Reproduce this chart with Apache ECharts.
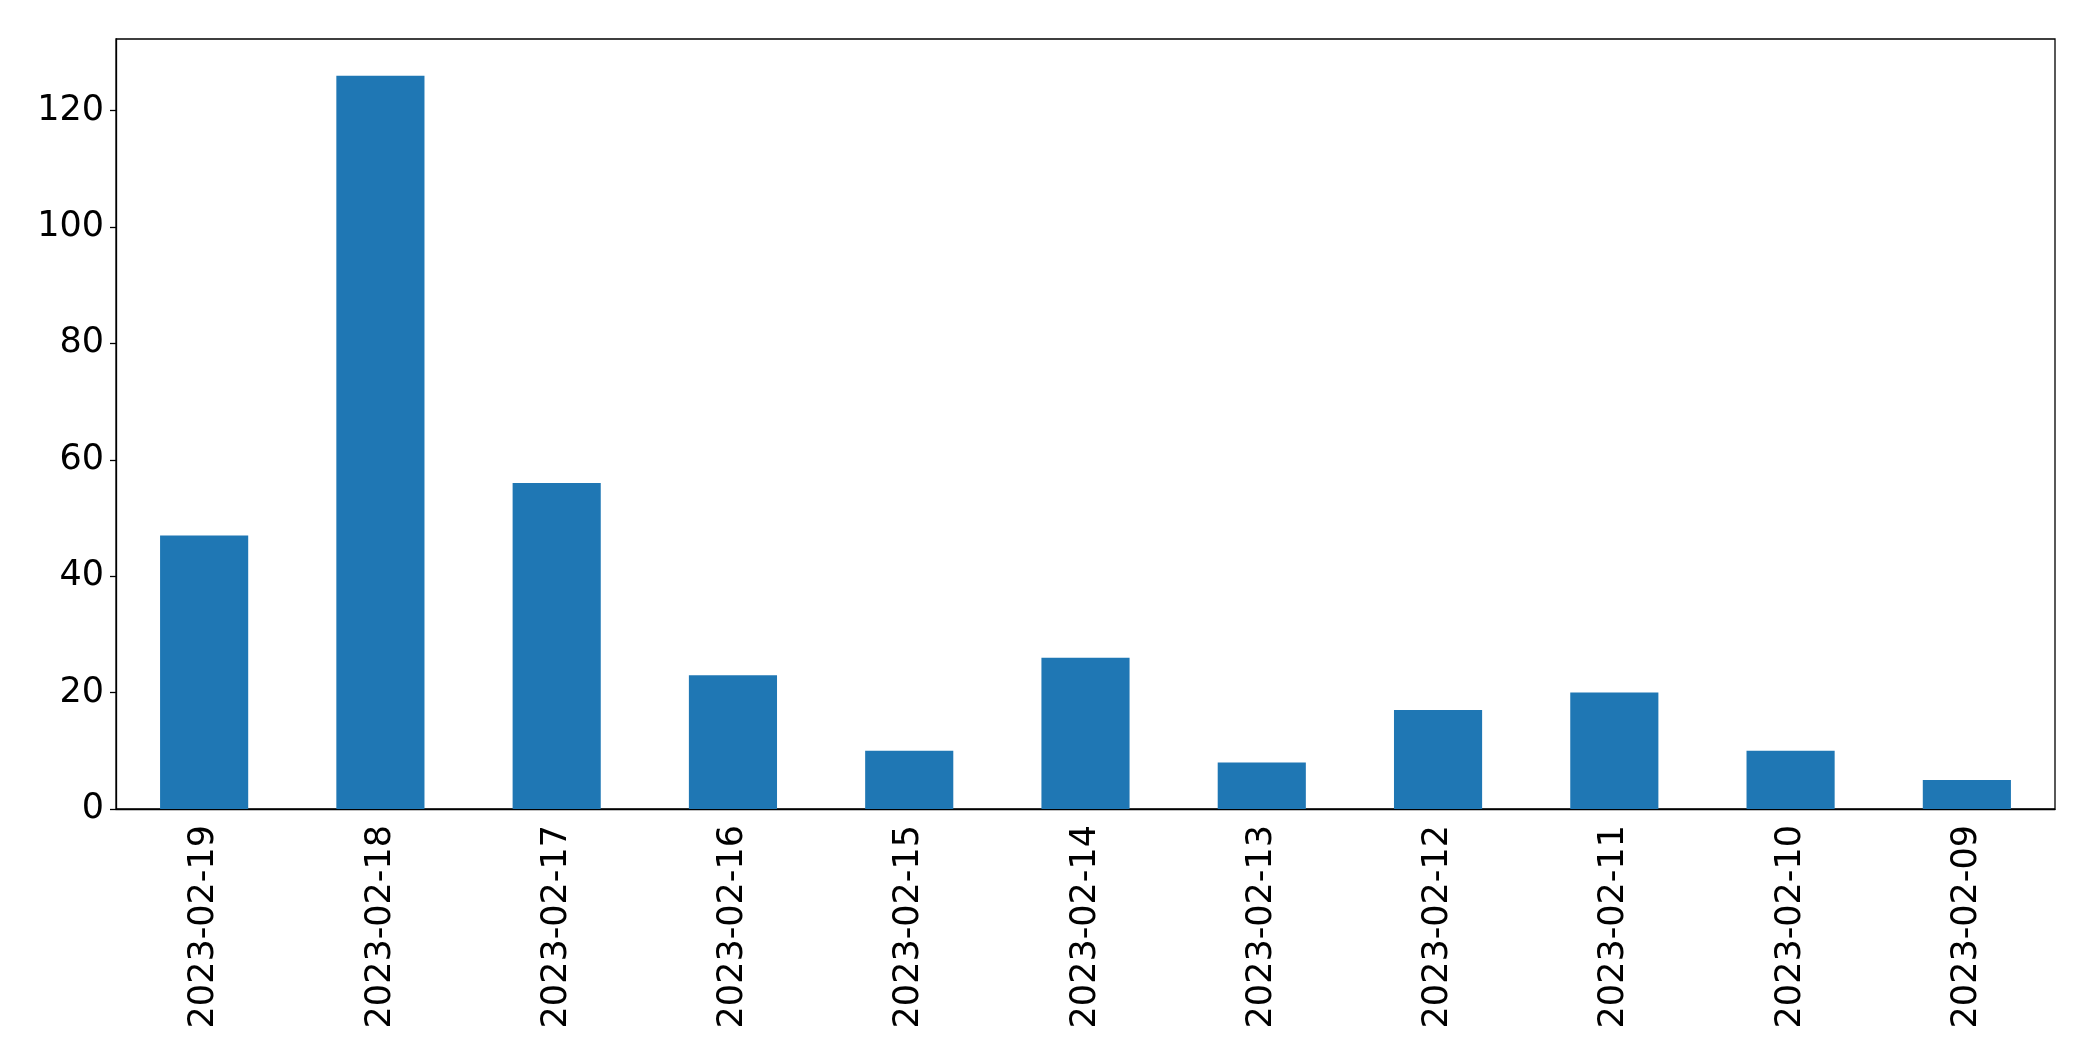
<!DOCTYPE html>
<html style="height: 100%">
<head>
    <meta charset="utf-8">
    <title>bar chart</title>
    <script type="text/javascript" src="https://cdn.jsdelivr.net/npm/echarts@6/dist/echarts.min.js"></script>
</head>
<body style="height: 100%; margin: 0; background: #fff;">
<div id="container" style="width: 2093px; height: 1061px;"></div>
<script type="text/javascript">
    // data
    var dates = ['2023-02-19', '2023-02-18', '2023-02-17', '2023-02-16', '2023-02-15', '2023-02-14',
                 '2023-02-13', '2023-02-12', '2023-02-11', '2023-02-10', '2023-02-09'];
    var counts = [47, 126, 56, 23, 10, 26, 8, 17, 20, 10, 5];
    var yTicks = [0, 20, 40, 60, 80, 100, 120];

    var font = 'DejaVu Sans';
    var myChart = echarts.init(document.getElementById('container'));
    var option = {
        animation: false,
        backgroundColor: '#fff',
        grid: {
            left: 116,
            top: 39,
            right: 38,
            bottom: 252,
            show: true,
            borderColor: '#000',
            borderWidth: 1.3,
            backgroundColor: 'transparent'
        },
        xAxis: {
            type: 'category',
            data: dates,
            axisLine: { lineStyle: { color: '#000', width: 1.3 } },
            axisTick: { alignWithLabel: true, length: 6, lineStyle: { color: '#000', width: 1.3 } },
            axisLabel: {
                rotate: 90,
                interval: 0,
                margin: 16,
                color: '#000',
                fontFamily: font,
                fontSize: 35
            }
        },
        yAxis: {
            type: 'value',
            min: 0,
            max: 132.3,
            interval: 20,
            splitLine: { show: false },
            axisLine: { show: true, lineStyle: { color: '#000', width: 1.3 } },
            axisTick: { show: true, length: 6, customValues: yTicks, lineStyle: { color: '#000', width: 1.3 } },
            axisLabel: {
                margin: 12,
                color: '#000',
                fontFamily: font,
                fontSize: 35,
                customValues: yTicks
            }
        },
        series: [{
            type: 'bar',
            data: counts,
            barWidth: '50%',
            itemStyle: { color: '#1f77b4' }
        }]
    };
    myChart.setOption(option);
</script>
</body>
</html>
